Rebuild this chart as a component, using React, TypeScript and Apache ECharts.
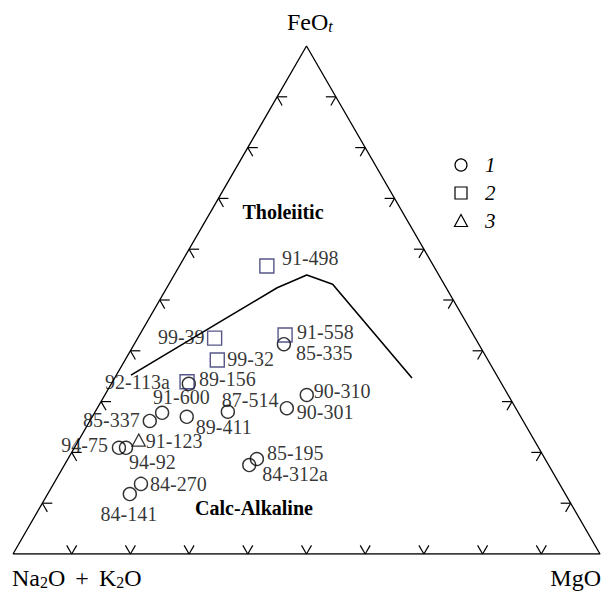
import React, { useEffect, useRef } from 'react';
import * as echarts from 'echarts';

const FONT = "'Liberation Serif', 'Times New Roman', Times, serif";

// Compositions as [Na2O+K2O, FeOt, MgO] (%)
const circleNames = ['85-335', '92-113a', '90-310', '91-600', '85-337', '89-411', '87-514', '90-301', '94-75', '94-92', '85-195', '84-312a', '84-270', '84-141'];
const circleAFM = [
  [33.2, 41.3, 25.5], [53.3, 33.5, 13.2], [34.3, 31.3, 34.4], [60.7, 27.8, 11.5],
  [63.6, 26.2, 10.2], [56.9, 27.0, 16.1], [49.4, 28.0, 22.6], [39.0, 28.7, 32.3],
  [71.5, 20.9, 7.6], [70.3, 20.9, 8.8], [49.1, 18.7, 32.2], [51.0, 17.5, 31.5],
  [71.3, 13.8, 14.9], [74.2, 11.8, 14.0],
];
const squareNames = ['91-498', '99-39', '91-558', '99-32', '89-156'];
const squareAFM = [
  [28.4, 56.7, 14.9], [44.4, 42.5, 13.1], [32.1, 43.1, 24.8], [46.1, 38.2, 15.7], [53.4, 33.9, 12.7],
];
const triangleNames = ['91-123'];
const triangleAFM = [[67.3, 22.4, 10.2]];

// Tholeiitic / calc-alkaline boundary
const boundaryAFM = [
  [62.3, 35.2, 2.5], [41.9, 45.7, 12.4], [28.8, 52.4, 18.8],
  [22.5, 54.9, 22.6], [19.0, 53.1, 27.9], [14.7, 34.6, 50.6],
];

const tickFractions = [0.1, 0.2, 0.3, 0.4, 0.5, 0.6, 0.7, 0.8, 0.9];
const legendLabels = ['1', '2', '3'];

// label placement (pixel offsets from marker centre)
const labelLayout: Record<string, [number, number, string]> = {
  '91-498': [15, -8, 'left'],
  '99-39': [-10, -1, 'right'],
  '91-558': [12, -3, 'left'],
  '99-32': [10, -1, 'left'],
  '89-156': [12, -3, 'left'],
  '85-335': [12, 9, 'left'],
  '92-113a': [-19, -2, 'right'],
  '90-310': [7, -4, 'left'],
  '91-600': [-9, -16, 'left'],
  '87-514': [-6, -12, 'left'],
  '90-301': [10, 4, 'left'],
  '85-337': [-10, -1, 'right'],
  '89-411': [9, 10, 'left'],
  '94-75': [-11, -3, 'right'],
  '91-123': [7, 1, 'left'],
  '94-92': [3, 14, 'left'],
  '85-195': [10, -6, 'left'],
  '84-312a': [13, 9, 'left'],
  '84-270': [9, 0, 'left'],
  '84-141': [-1, 20, 'center'],
};

const toXY = (afm: number[]) => {
  const s = afm[0] + afm[1] + afm[2];
  const f = afm[1] / s;
  const m = afm[2] / s;
  return [m + f / 2, f];
};

const points = (names: string[], afm: number[][]) =>
  names.map((n, i) => {
    const lp = labelLayout[n];
    return { name: n, value: toXY(afm[i]), label: { offset: [lp[0], lp[1]], align: lp[2] } };
  });

const TL = 0.017;
const tickSegments: number[][] = [];
tickFractions.forEach((t) => {
  tickSegments.push([t, 0, t - TL / 2, TL], [t, 0, t + TL / 2, TL]);
  tickSegments.push([t / 2, t, t / 2 + TL, t], [t / 2, t, t / 2 + TL / 2, t - TL]);
  tickSegments.push([1 - t / 2, t, 1 - t / 2 - TL, t], [1 - t / 2, t, 1 - t / 2 - TL / 2, t - TL]);
});

const labelBase = {
  show: true,
  position: 'inside',
  formatter: '{b}',
  fontSize: 20,
  lineHeight: 15,
  fontFamily: FONT,
  color: '#000',
  textBorderWidth: 0,
  verticalAlign: 'middle',
};

const richAxis = {
  n: { fontSize: 24, fontFamily: FONT, color: '#000', lineHeight: 24, verticalAlign: 'top' },
  s: { fontSize: 16, fontFamily: FONT, color: '#000', lineHeight: 8, verticalAlign: 'bottom' },
  t: { fontSize: 16, fontFamily: FONT, fontStyle: 'italic', color: '#000', lineHeight: 8, verticalAlign: 'bottom' },
};

const txt = (x: number, y: number, text: string, align: string, extra: any = {}) => ({
  type: 'text',
  x,
  y,
  silent: true,
  style: {
    text,
    fill: '#000',
    fontFamily: FONT,
    align,
    textAlign: align,
    verticalAlign: 'middle',
    textVerticalAlign: 'middle',
    ...extra,
  },
});

export default function App() {
  const ref = useRef<HTMLDivElement>(null);
  useEffect(() => {
    if (!ref.current) return;
    const chart = echarts.init(ref.current, null, { renderer: 'svg' });
    const option: any = {
      animation: false,
      backgroundColor: '#fff',
      grid: { left: 13, top: 46, width: 587, height: 508, containLabel: false },
      xAxis: { type: 'value', min: 0, max: 1, show: false },
      yAxis: { type: 'value', min: 0, max: 1, show: false },
      series: [
        {
          type: 'line',
          silent: true,
          symbol: 'none',
          data: [[0, 0], [1, 0], [0.5, 1], [0, 0]],
          lineStyle: { color: '#000', width: 1.3 },
          z: 2,
        },
        {
          type: 'custom',
          silent: true,
          data: tickSegments,
          encode: { x: [0, 2], y: [1, 3] },
          renderItem: (_p: any, api: any) => {
            const a = api.coord([api.value(0), api.value(1)]);
            const b = api.coord([api.value(2), api.value(3)]);
            return {
              type: 'line',
              shape: { x1: a[0], y1: a[1], x2: b[0], y2: b[1] },
              style: { stroke: '#000', lineWidth: 1.2 },
            };
          },
          z: 2,
        },
        {
          type: 'line',
          silent: true,
          symbol: 'none',
          data: boundaryAFM.map(toXY),
          lineStyle: { color: '#000', width: 1.6 },
          z: 3,
        },
        {
          type: 'scatter',
          name: '1',
          silent: true,
          symbol: 'circle',
          symbolSize: 13,
          itemStyle: { color: 'rgba(0,0,0,0)', borderColor: '#000', borderWidth: 1.4 },
          label: labelBase,
          data: points(circleNames, circleAFM),
          z: 5,
        },
        {
          type: 'scatter',
          name: '2',
          silent: true,
          symbol: 'rect',
          symbolSize: 14,
          itemStyle: { color: 'rgba(0,0,0,0)', borderColor: '#2c2c6c', borderWidth: 1.4 },
          label: labelBase,
          data: points(squareNames, squareAFM),
          z: 5,
        },
        {
          type: 'scatter',
          name: '3',
          silent: true,
          symbol: 'triangle',
          symbolSize: [13, 12],
          itemStyle: { color: 'rgba(0,0,0,0)', borderColor: '#000', borderWidth: 1.3 },
          label: labelBase,
          data: points(triangleNames, triangleAFM),
          z: 5,
        },
      ],
      graphic: [
        txt(287, 22, '{n|FeO}{t|t}', 'left', { rich: richAxis }),
        txt(12, 578, '{n|Na}{s|2}{n|O}', 'left', { rich: richAxis }),
        txt(82, 578, '{n|+}', 'center', { rich: richAxis }),
        txt(99, 578, '{n|K}{s|2}{n|O}', 'left', { rich: richAxis }),
        txt(601, 578, '{n|MgO}', 'right', { rich: richAxis }),
        txt(283, 212, 'Tholeiitic', 'center', { fontSize: 20, fontWeight: 'bold' }),
        txt(254, 508, 'Calc-Alkaline', 'center', { fontSize: 20, fontWeight: 'bold' }),
        {
          type: 'circle',
          silent: true,
          shape: { cx: 461, cy: 165, r: 6 },
          style: { fill: 'none', stroke: '#000', lineWidth: 1.2 },
        },
        {
          type: 'rect',
          silent: true,
          shape: { x: 455, y: 187, width: 12, height: 12 },
          style: { fill: 'none', stroke: '#000', lineWidth: 1.2 },
        },
        {
          type: 'polygon',
          silent: true,
          shape: { points: [[461, 214.5], [454.5, 226.5], [467.5, 226.5]] },
          style: { fill: 'none', stroke: '#000', lineWidth: 1.2 },
        },
        txt(485, 165, legendLabels[0], 'left', { fontSize: 21, fontStyle: 'italic' }),
        txt(485, 193, legendLabels[1], 'left', { fontSize: 21, fontStyle: 'italic' }),
        txt(485, 221, legendLabels[2], 'left', { fontSize: 21, fontStyle: 'italic' }),
      ],
    };
    chart.setOption(option);
    return () => chart.dispose();
  }, []);
  return (
    <div
      ref={ref}
      style={{ position: 'absolute', left: 0, top: 0, width: 607, height: 592, background: '#fff' }}
    />
  );
}
